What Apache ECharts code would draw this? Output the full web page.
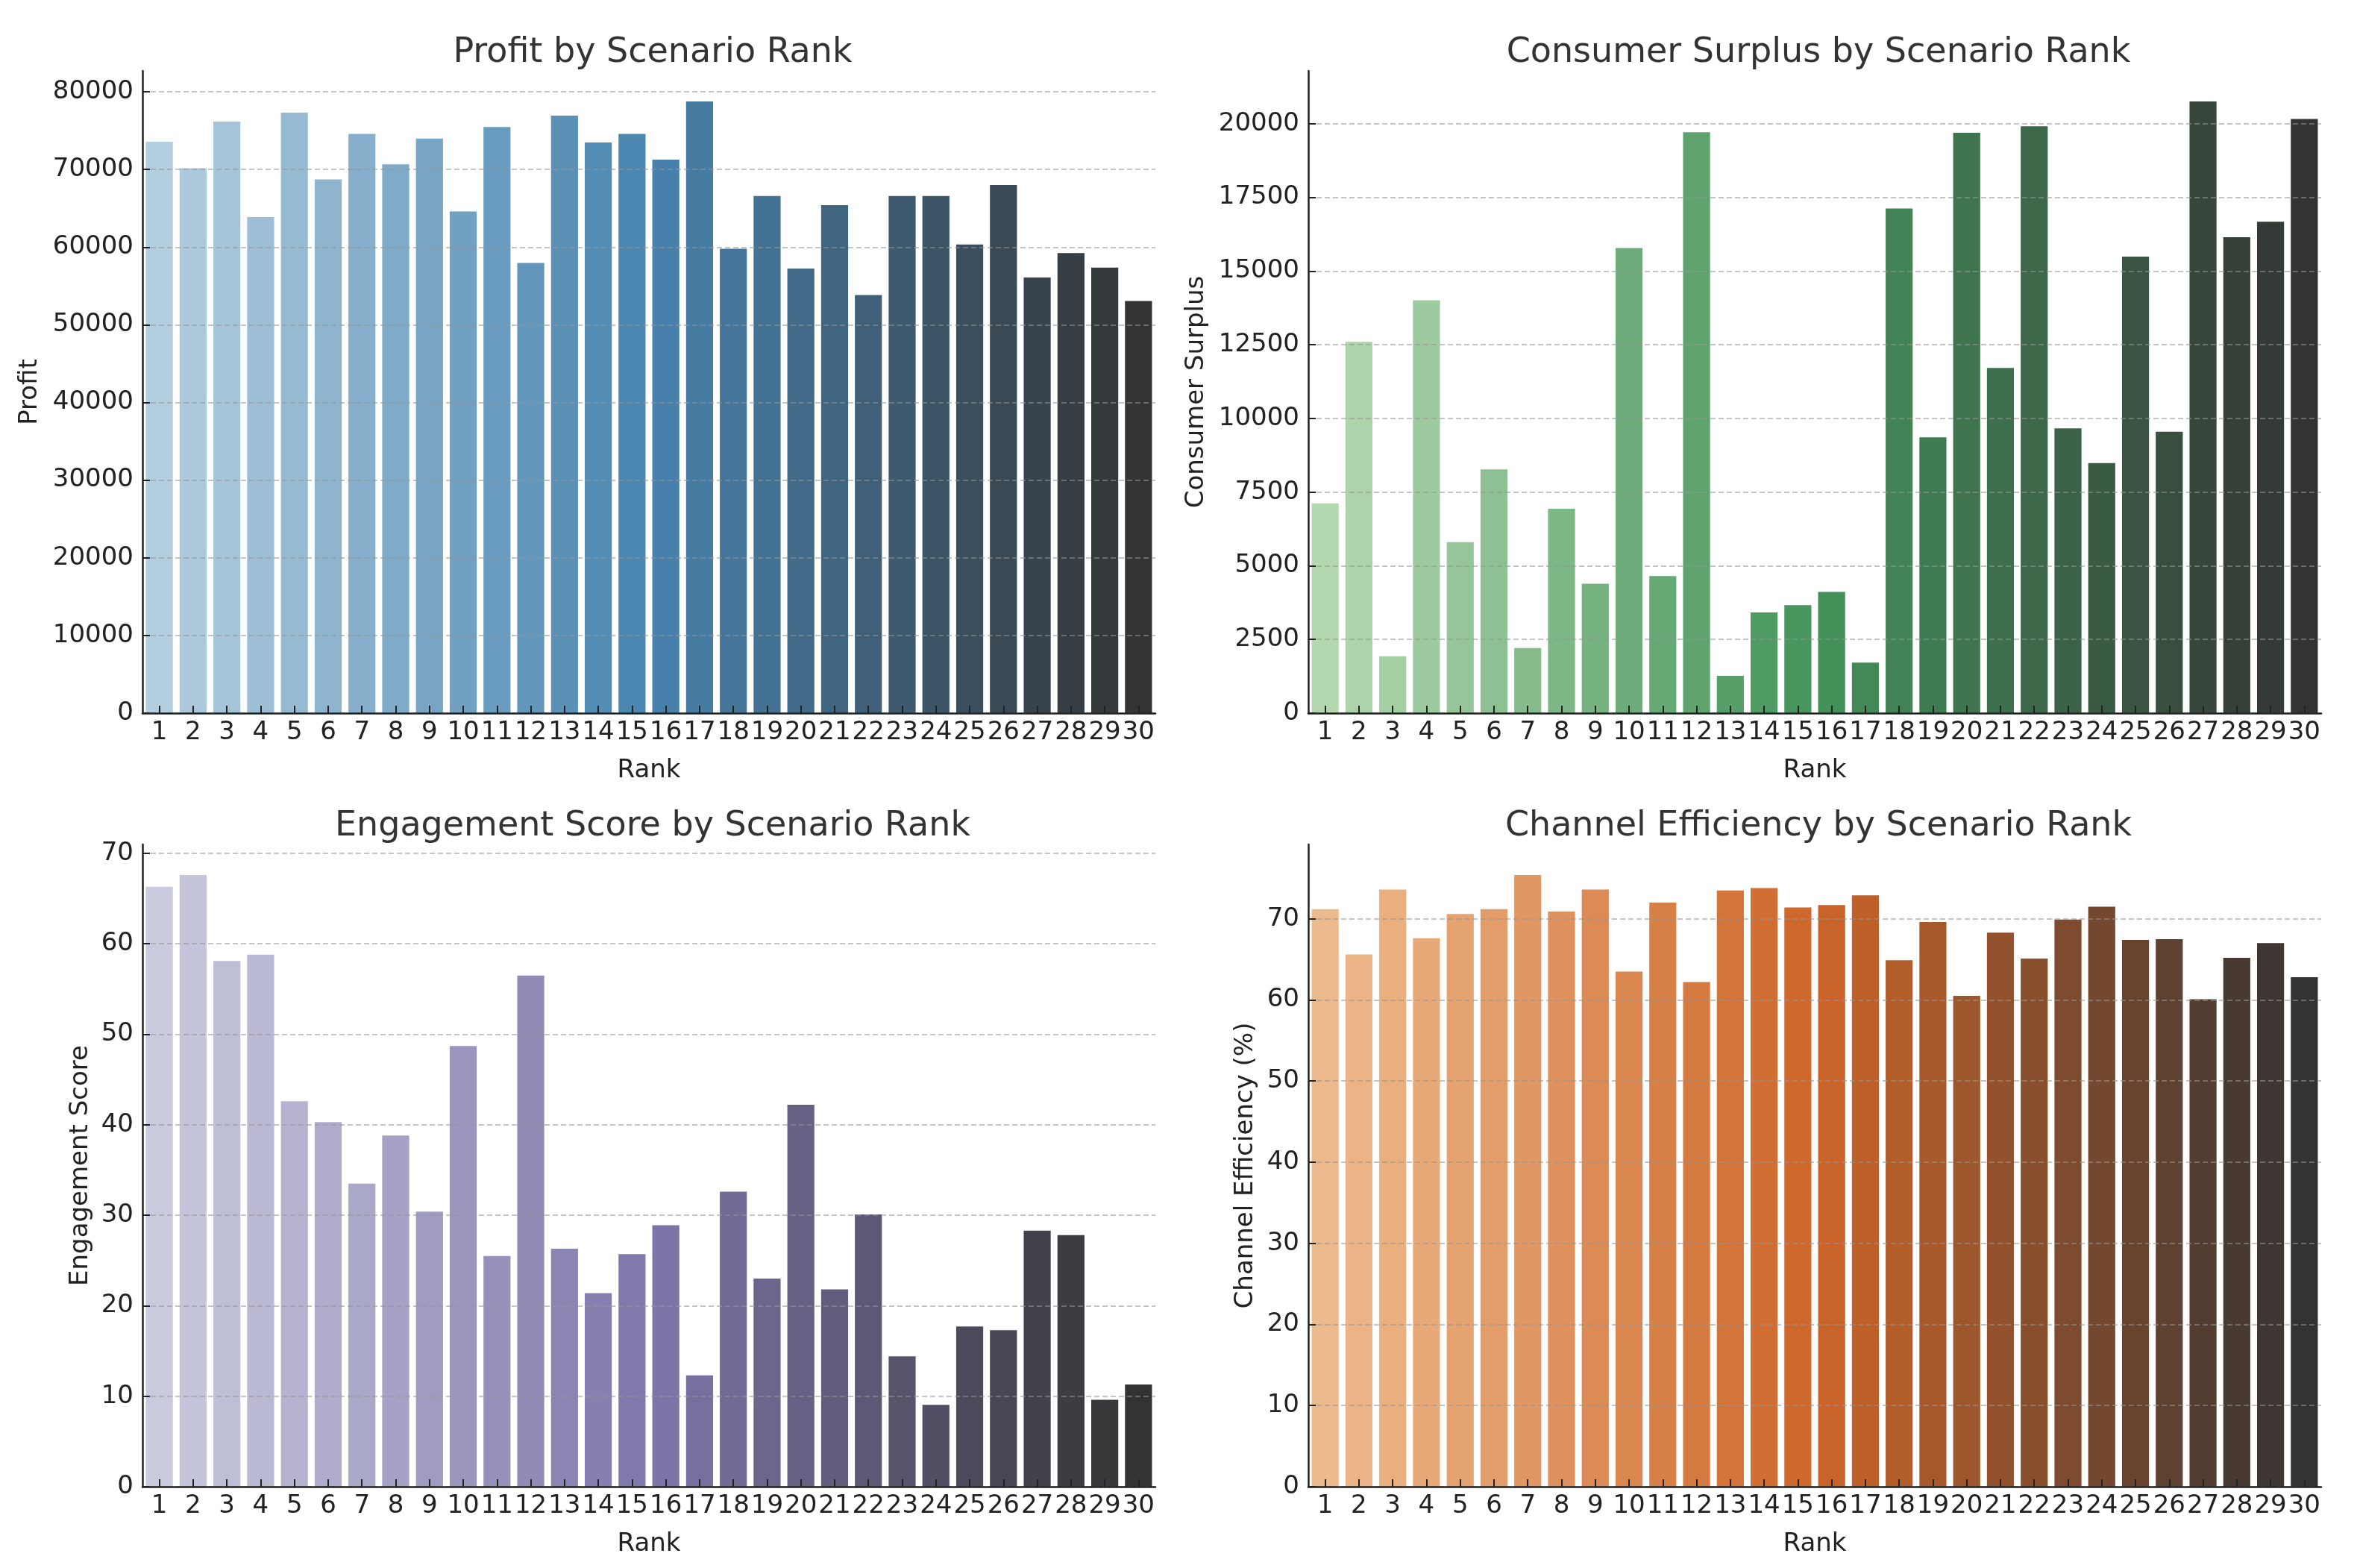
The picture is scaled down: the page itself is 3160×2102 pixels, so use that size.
<!DOCTYPE html>
<html><head><meta charset="utf-8">
<script src="https://cdn.jsdelivr.net/npm/echarts@6/dist/echarts.min.js"></script>
<style>html,body{margin:0;padding:0;background:#fff}#c{width:3160px;height:2102px}</style>
</head><body><div id="c"></div>
<script>
const ranks = ['1','2','3','4','5','6','7','8','9','10','11','12','13','14','15','16','17','18','19','20','21','22','23','24','25','26','27','28','29','30'];

const profit = [73580,70160,76170,63870,77330,68730,74570,70660,73970,64590,75460,57970,76940,73470,74570,71260,78760,59790,66580,57250,65420,53830,66580,66580,60340,68010,56090,59240,57360,53060];
const consumerSurplus = [7122,12602,1933,14012,5800,8270,2209,6933,4390,15785,4651,19709,1265,3416,3663,4113,1715,17122,9360,19695,11715,19913,9666,8488,15494,9549,20756,16148,16672,20160];
const engagement = [66.3,67.6,58.1,58.8,42.6,40.3,33.5,38.8,30.4,48.7,25.5,56.5,26.3,21.4,25.7,28.9,12.3,32.6,23.0,42.2,21.8,30.1,14.4,9.05,17.7,17.3,28.3,27.8,9.6,11.3];
const channelEff = [71.2,65.6,73.6,67.6,70.6,71.2,75.4,70.9,73.6,63.5,72.0,62.2,73.5,73.8,71.4,71.7,72.9,64.9,69.6,60.5,68.3,65.1,69.9,71.5,67.4,67.5,60.1,65.2,67.0,62.8];

const profitTicks = [0,10000,20000,30000,40000,50000,60000,70000,80000];
const consumerTicks = [0,2500,5000,7500,10000,12500,15000,17500,20000];
const engagementTicks = [0,10,20,30,40,50,60,70];
const channelTicks = [0,10,20,30,40,50,60,70];

const titles = ['Profit by Scenario Rank','Consumer Surplus by Scenario Rank','Engagement Score by Scenario Rank','Channel Efficiency by Scenario Rank'];
const yNames = ['Profit','Consumer Surplus','Engagement Score','Channel Efficiency (%)'];

// colour maps (ColorBrewer 9-step)
const CM = {
  Blues:['#f7fbff','#deebf7','#c6dbef','#9ecae1','#6baed6','#4292c6','#2171b5','#08519c','#08306b'],
  Greens:['#f7fcf5','#e5f5e0','#c7e9c0','#a1d99b','#74c476','#41ab5d','#238b45','#006d2c','#00441b'],
  Purples:['#fcfbfd','#efedf5','#dadaeb','#bcbddc','#9e9ac8','#807dba','#6a51a3','#54278f','#3f007d'],
  Oranges:['#fff5eb','#fee6ce','#fdd0a2','#fdae6b','#fd8d3c','#f16913','#d94801','#a63603','#7f2704']
};
function hex2rgb(h){return [1,3,5].map(i=>parseInt(h.substr(i,2),16)/255);}
function interp(stops,t){const n=stops.length-1;const x=t*n;const i=Math.min(Math.floor(x),n-1);const f=x-i;return stops[i].map((c,k)=>c+(stops[i+1][k]-c)*f);}
function desat(rgb,p){const mx=Math.max(...rgb),mn=Math.min(...rgb);const l=(mx+mn)/2;return rgb.map(c=>l+(c-l)*p);}
function toHex(rgb){return '#'+rgb.map(c=>{const v=Math.round(Math.max(0,Math.min(1,c))*255);return (v<16?'0':'')+v.toString(16);}).join('');}
function darkPal(name,n){const s=CM[name].map(hex2rgb);const anchors=[interp(s,1/3),interp(s,2/3),hex2rgb('#333333')];const out=[];for(let j=0;j<n;j++){out.push(toHex(desat(interp(anchors,j/(n-1)),0.75)));}return out;}

const FONT = 'DejaVu Sans';
const panels = [
  {data:profit, ticks:profitTicks, interval:10000, pal:'Blues', left:191, top:95, nameGap:134},
  {data:consumerSurplus, ticks:consumerTicks, interval:2500, pal:'Greens', left:1754, top:95, nameGap:133},
  {data:engagement, ticks:engagementTicks, interval:10, pal:'Purples', left:191, top:1132, nameGap:66},
  {data:channelEff, ticks:channelTicks, interval:10, pal:'Oranges', left:1754, top:1132, nameGap:67}
];
const GW = 1358, GH = 861;

const option = {
  backgroundColor:'#ffffff',
  animation:false,
  textStyle:{fontFamily:FONT},
  title: panels.map((p,i)=>({
    text:titles[i], left:p.left+GW/2, top:p.top-52, textAlign:'center',
    textStyle:{fontFamily:FONT,fontSize:46,fontWeight:'normal',color:'#333333'}
  })),
  grid: panels.map(p=>({left:p.left, top:p.top, width:GW, height:GH, outerBoundsMode:'none'})),
  xAxis: panels.map((p,i)=>({
    type:'category', gridIndex:i, data:ranks, boundaryGap:true, z:3,
    name:'Rank', nameLocation:'middle', nameGap:60,
    nameTextStyle:{fontFamily:FONT,fontSize:34,color:'#222222'},
    axisLine:{show:true,lineStyle:{color:'#222222',width:2.5}},
    axisTick:{show:true,inside:true,length:10,alignWithLabel:true,lineStyle:{color:'#222222',width:2}},
    axisLabel:{interval:0,fontFamily:FONT,fontSize:34,color:'#222222',margin:9,hideOverlap:false},
    splitLine:{show:false}
  })),
  yAxis: panels.map((p,i)=>({
    type:'value', gridIndex:i, min:0, max:Math.max(...p.data)*1.05, interval:p.interval, z:3,
    name:yNames[i], nameLocation:'middle', nameRotate:90, nameGap:p.nameGap,
    nameTextStyle:{fontFamily:FONT,fontSize:34,color:'#222222'},
    axisLine:{show:true,lineStyle:{color:'#222222',width:2.5}},
    axisTick:{show:true,inside:true,length:10,lineStyle:{color:'#222222',width:2},customValues:p.ticks},
    axisLabel:{fontFamily:FONT,fontSize:34,color:'#222222',margin:12,customValues:p.ticks,formatter:v=>String(v)},
    splitLine:{show:true,lineStyle:{color:'rgba(150,150,150,0.55)',width:2,type:[7,4]}}
  })),
  series: panels.map((p,i)=>{
    const cols = darkPal(p.pal, p.data.length);
    return {
      type:'bar', xAxisIndex:i, yAxisIndex:i, barCategoryGap:'20%', z:2,
      data:p.data.map((v,j)=>({value:v,itemStyle:{color:cols[j]}}))
    };
  })
};
const chart = echarts.init(document.getElementById('c'));
chart.setOption(option);
</script>
</body></html>
